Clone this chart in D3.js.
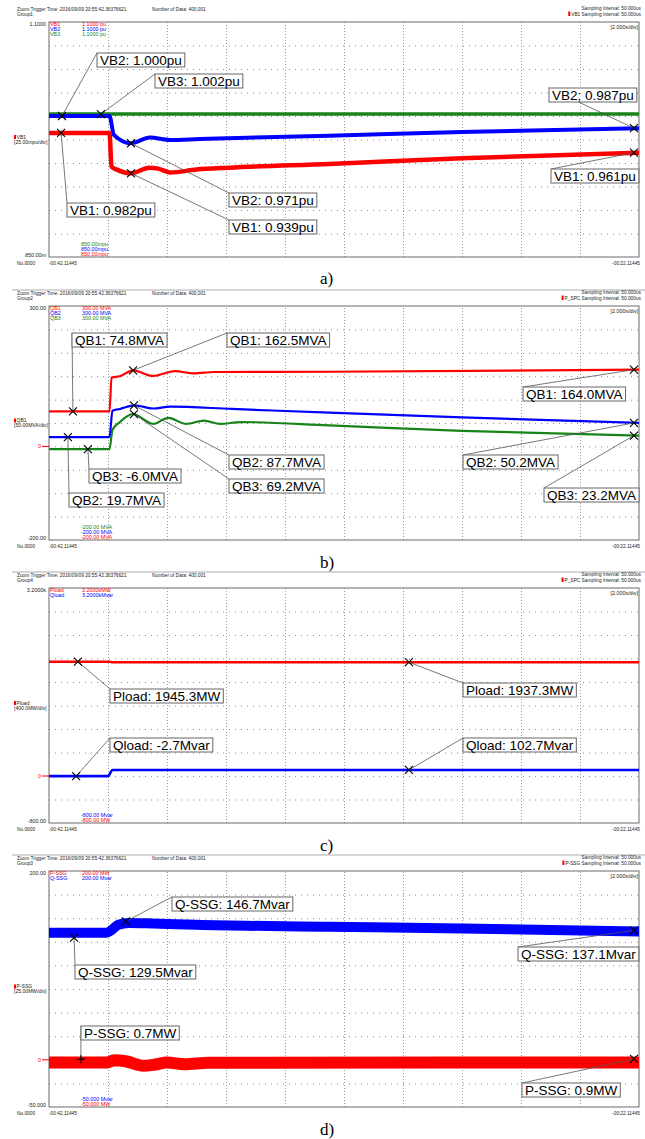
<!DOCTYPE html>
<html><head><meta charset="utf-8">
<script src="https://cdn.jsdelivr.net/npm/d3@7"></script>
<style>body{margin:0;background:#fff}svg{display:block}</style>
</head><body>
<svg id="c" width="645" height="1139"></svg>
<script>
// ---------------- DATA (time in s from the window start -00:42.11445) ----------------
const timeDomain = [0, 20];
const timeTickLabels = ["-00:42.11445", "-00:22.11445"];

// panel a) bus voltages (pu)
const vb1T = [0, 2.05, 2.12, 2.3, 2.78, 3.4, 3.7, 4.1, 5.0, 6.1, 9.5, 14, 20];
const vb1V = [0.982, 0.982, 0.946, 0.943, 0.939, 0.945, 0.944, 0.940, 0.943, 0.945, 0.949, 0.955, 0.961];
const vb2T = [0, 2.05, 2.2, 2.78, 3.42, 4.1, 5.1, 9.5, 14, 20];
const vb2V = [1.000, 1.000, 0.980, 0.971, 0.977, 0.9745, 0.9755, 0.979, 0.983, 0.987];
const vb3T = [0, 20];
const vb3V = [1.002, 1.002];

// panel b) reactive power (MVA)
const qb1T = [0, 2.05, 2.12, 2.4, 2.85, 3.53, 4.27, 4.9, 5.6, 9.5, 20];
const qb1V = [74.8, 74.8, 147, 150, 162.5, 150.5, 161, 156, 159, 159.5, 164.0];
const qb2T = [0, 2.05, 2.15, 2.4, 2.9, 3.53, 4.1, 6.2, 9.5, 14, 20];
const qb2V = [19.7, 19.7, 76, 80, 87.7, 81, 85, 80, 72, 62, 50.2];
const qb3T = [0, 2.05, 2.15, 2.4, 2.85, 3.53, 4.05, 4.65, 5.25, 5.8, 6.5, 9.5, 14, 20];
const qb3V = [-6.0, -6.0, 35, 52, 69.2, 48, 61, 48, 55, 48, 52, 45, 33, 23.2];

// panel c) load (MW / Mvar)
const ploadT = [0, 2.05, 2.15, 20];
const ploadV = [1945.3, 1945.3, 1937.3, 1937.3];
const qloadT = [0, 2.0, 2.15, 20];
const qloadV = [-2.7, -2.7, 102.7, 102.7];

// panel d) SSG output (MW / Mvar)
const qssgT = [0, 1.95, 2.1, 2.35, 2.7, 3.5, 5, 9.5, 14, 20];
const qssgV = [134.5, 134.5, 137, 143, 145, 144.5, 143, 141, 139, 136];
const pssgT = [0, 2.0, 2.2, 2.6, 3.2, 3.6, 4.0, 4.6, 5.4, 7, 20];
const pssgV = [-2.8, -2.8, -0.5, -1.5, -6.4, -5, -2.8, -4.7, -3.2, -3, -2.8];

// cursor annotations: [text, time, value, marker]
const annA = [["VB2: 1.000pu", 0.44, 1.000, "x"], ["VB3: 1.002pu", 1.76, 1.002, "x"], ["VB1: 0.982pu", 0.41, 0.982, "x"],
  ["VB2: 0.971pu", 2.78, 0.971, "x"], ["VB1: 0.939pu", 2.78, 0.939, "x"], ["VB2; 0.987pu", 19.83, 0.987, "x"], ["VB1: 0.961pu", 19.83, 0.961, "x"]];
const annB = [["QB1: 74.8MVA", 0.81, 74.8, "x"], ["QB1: 162.5MVA", 2.85, 162.5, "x"], ["QB2: 19.7MVA", 0.64, 19.7, "x"],
  ["QB3: -6.0MVA", 1.32, -6.0, "x"], ["QB2: 87.7MVA", 2.88, 87.7, "x"], ["QB3: 69.2MVA", 2.88, 69.2, "x"],
  ["QB1: 164.0MVA", 19.83, 164.0, "x"], ["QB2: 50.2MVA", 19.83, 50.2, "x"], ["QB3: 23.2MVA", 19.83, 23.2, "x"]];
const annC = [["Pload: 1945.3MW", 0.98, 1945.3, "x"], ["Qload: -2.7Mvar", 0.92, -2.7, "x"],
  ["Pload: 1937.3MW", 12.2, 1937.3, "x"], ["Qload: 102.7Mvar", 12.2, 102.7, "x"]];
const annD = [["Q-SSG: 146.7Mvar", 2.61, 146.7, "x"], ["Q-SSG: 129.5Mvar", 0.85, 129.5, "x"], ["P-SSG: 0.7MW", 1.08, 0.7, "+"],
  ["Q-SSG: 137.1Mvar", 19.83, 137.1, "x"], ["P-SSG: 0.9MW", 19.83, 0.9, "x"]];

// ---------------- LAYOUT ----------------
const RED = "#ff0000", BLUE = "#0000ff", GREEN = "#17841a";
const boxA = [[97, 53], [155, 74], [67, 203], [229, 193], [229, 220], [549, 88], [551, 169]];
const boxB = [[72, 333], [227, 333], [69, 493], [89, 469], [229, 455], [229, 479], [523, 387], [463, 455], [544, 488]];
const boxC = [[110, 689], [110, 738], [463, 683], [463, 738]];
const boxD = [[172, 897], [75, 965], [81, 1026], [518, 947], [522, 1083]];

const panels = [
  { top: 22, bottom: 257, dom: [0.85, 1.1], topLab: "1.1000", botLab: "850.00m", zero: false, group: "Group1",
    chan: "VB1", div: "[25.00mpu/div]", samp: "VB1", cap: "a)", capY: 284, hline: false,
    legTop: [["VB1", "1.1000 pu", RED], ["VB2", "1.1000 pu", BLUE], ["VB3", "1.1000 pu", GREEN]],
    legBot: [["850.00mpu", GREEN], ["850.00mpu", BLUE], ["850.00mpu", RED]],
    series: [[vb3T, vb3V, GREEN, 3.5], [vb2T, vb2V, BLUE, 4], [vb1T, vb1V, RED, 4.5]],
    ann: annA, boxes: boxA },
  { top: 306, bottom: 540, dom: [-200, 300], topLab: "300.00", botLab: "-200.00", zero: true, group: "Group2",
    chan: "QB1", div: "[50.00MVA/div]", samp: "P_SPC", cap: "b)", capY: 568, hline: true,
    legTop: [["QB1", "300.00 MVA", RED], ["QB2", "300.00 MVA", BLUE], ["QB3", "300.00 MVA", GREEN]],
    legBot: [["-200.00 MVA", GREEN], ["-200.00 MVA", BLUE], ["-200.00 MVA", RED]],
    series: [[qb3T, qb3V, GREEN, 2.2], [qb2T, qb2V, BLUE, 2.2], [qb1T, qb1V, RED, 2.2]],
    ann: annB, boxes: boxB },
  { top: 588, bottom: 823, dom: [-800, 3200], topLab: "3.2000k", botLab: "-800.00", zero: true, group: "Group4",
    chan: "Pload", div: "[400.0MW/div]", samp: "P_SPC", cap: "c)", capY: 851, hline: true,
    legTop: [["Pload", "3.2000kMW", RED], ["Qload", "3.2000kMvar", BLUE]],
    legBot: [["-800.00 Mvar", BLUE], ["-800.00 MW", RED]],
    series: [[ploadT, ploadV, RED, 2.6], [qloadT, qloadV, BLUE, 2.6]],
    ann: annC, boxes: boxC },
  { top: 871, bottom: 1107, dom: [-50, 200], topLab: "200.00", botLab: "-50.000", zero: true, group: "Group3",
    chan: "P-SSG", div: "[25.00MW/div]", samp: "P-SSG", cap: "d)", capY: 1135, hline: true,
    legTop: [["P-SSG", "200.00 MW", RED], ["Q-SSG", "200.00 Mvar", BLUE]],
    legBot: [["-50.000 Mvar", BLUE], ["-50.000 MW", RED]],
    series: [[qssgT, qssgV, BLUE, 10], [pssgT, pssgV, RED, 12]],
    ann: annD, boxes: boxD }
];

const L = 49, R = 639;
const svg = d3.select("#c");
const small = "font-family:'Liberation Sans',Arial,sans-serif;font-size:6px";
const x = d3.scaleLinear().domain(timeDomain).range([L, R]);

panels.forEach(p => {
  const g = svg.append("g");
  const y = d3.scaleLinear().domain(p.dom).range([p.bottom, p.top]);
  const H = p.bottom - p.top;

  // small text helper: horizontally condensed like the recorder's screen font
  const hdr = (tx, ty, s, anchor, col, sx) => g.append("text")
    .attr("transform", `translate(${tx},${ty}) scale(${sx || 0.8},1)`)
    .attr("style", small).attr("text-anchor", anchor || "start").attr("fill", col || "#222").text(s);

  // header
  if (p.hline) g.append("line").attr("x1", 12).attr("x2", 645).attr("y1", p.top - 16).attr("y2", p.top - 16)
    .attr("stroke", "#aaa").attr("stroke-width", 1);
  hdr(17, p.top - 11, "Zoom Trigger Time: 2016/09/09 20:55:42.36376621");
  hdr(17, p.top - 6.5, p.group);
  hdr(152, p.top - 11, "Number of Data: 400,001");
  hdr(641, p.top - 12, "Sampling Interval: 50.000us", "end");
  const st = hdr(641, p.top - 6, p.samp + " Sampling Interval: 50.000us", "end");
  const sw = st.node().getComputedTextLength() * 0.8;
  g.append("rect").attr("x", 641 - sw - 3).attr("y", p.top - 10.5).attr("width", 2).attr("height", 4.5).attr("fill", RED);

  // grid via axes
  const xs = d3.range(1, 10).map(i => timeDomain[0] + i * (timeDomain[1] - timeDomain[0]) / 10);
  const ys = d3.range(1, 10).map(i => p.dom[0] + i * (p.dom[1] - p.dom[0]) / 10);
  const gx = g.append("g").attr("transform", `translate(0,${p.bottom})`)
    .call(d3.axisBottom(x).tickValues(xs).tickSize(-H).tickFormat(""));
  gx.select(".domain").remove();
  gx.selectAll("line").attr("stroke", "#9a9a9a").attr("stroke-dasharray", "1,2");
  const gy = g.append("g").attr("transform", `translate(${L},0)`)
    .call(d3.axisLeft(y).tickValues(ys).tickSize(-(R - L)).tickFormat(""));
  gy.select(".domain").remove();
  gy.selectAll("line").attr("stroke", "#8a8a8a").attr("stroke-dasharray", "1,5");

  // frame
  g.append("rect").attr("x", L).attr("y", p.top).attr("width", R - L).attr("height", H)
    .attr("fill", "none").attr("stroke", "#6a6a6a").attr("stroke-width", 1);

  // left scale labels
  hdr(46, p.top + 4, p.topLab, "end", null, 0.9);
  hdr(46, p.bottom, p.botLab, "end", null, 0.9);
  if (p.zero) {
    hdr(41, y(0) + 2, "0", "end", RED, 0.9);
    g.append("line").attr("x1", 42).attr("x2", L).attr("y1", y(0)).attr("y2", y(0)).attr("stroke", RED);
  }
  const cy = (p.top + p.bottom) / 2;
  g.append("rect").attr("x", 14).attr("y", cy - 4.5).attr("width", 2).attr("height", 4).attr("fill", RED);
  hdr(16.5, cy - 0.8, p.chan, "start", null, 0.85);
  hdr(14, cy + 4, p.div, "start", null, 0.85);

  // time labels
  hdr(17, p.bottom + 8, "No.0000");
  hdr(L, p.bottom + 8, timeTickLabels[0]);
  hdr(R + 1, p.bottom + 8, timeTickLabels[1], "end");
  hdr(638, p.top + 6.5, "[2.000s/div]", "end", null, 0.9);

  // series
  const clip = "clip" + p.top;
  svg.append("clipPath").attr("id", clip).append("rect").attr("x", L).attr("y", p.top).attr("width", R - L).attr("height", H);
  const line = d3.line().x(d => x(d[0])).y(d => y(d[1])).curve(d3.curveMonotoneX);
  p.series.forEach(([t, v, col, w]) => {
    g.append("path").datum(t.map((tt, i) => [tt, v[i]])).attr("d", line).attr("fill", "none")
      .attr("stroke", col).attr("stroke-width", w).attr("clip-path", `url(#${clip})`);
  });

  // legends inside plot
  p.legTop.forEach(([n, val, col], i) => {
    hdr(50, p.top + 4 + i * 5.2, n, "start", col, 0.9);
    hdr(82, p.top + 4 + i * 5.2, val, "start", col, 0.9);
  });
  const nb = p.legBot.length;
  p.legBot.forEach(([val, col], i) => hdr(81, p.bottom - 1 - (nb - 1 - i) * 5, val, "start", col, 0.9));

  // annotations
  p.ann.forEach(([txt, t, v, mk], i) => {
    const mx = x(t), my = y(v);
    const [bx, by] = p.boxes[i];
    g.append("line").attr("x1", mx).attr("y1", my).attr("x2", bx).attr("y2", by)
      .attr("stroke", "#555").attr("stroke-width", 0.8);
    const rect = g.append("rect").attr("x", bx).attr("y", by).attr("height", 14)
      .attr("fill", "#fff").attr("stroke", "#666").attr("stroke-width", 1);
    const te = g.append("text").attr("x", bx + 3).attr("y", by + 11.5)
      .attr("style", "font-family:'Liberation Sans',Arial,sans-serif;font-size:13.5px").attr("fill", "#000").text(txt);
    rect.attr("width", te.node().getComputedTextLength() + 6);
    const s = 4;
    const d = mk === "+" ? `M${mx - s},${my}L${mx + s},${my}M${mx},${my - s}L${mx},${my + s}`
      : `M${mx - s},${my - s}L${mx + s},${my + s}M${mx - s},${my + s}L${mx + s},${my - s}`;
    g.append("path").attr("d", d).attr("stroke", "#000").attr("stroke-width", 1.1).attr("fill", "none");
  });

  // caption
  g.append("text").attr("x", 320).attr("y", p.capY).attr("style", "font-family:'Liberation Serif','Times New Roman',serif;font-size:17px")
    .attr("fill", "#000").text(p.cap);
});
</script>
</body></html>
